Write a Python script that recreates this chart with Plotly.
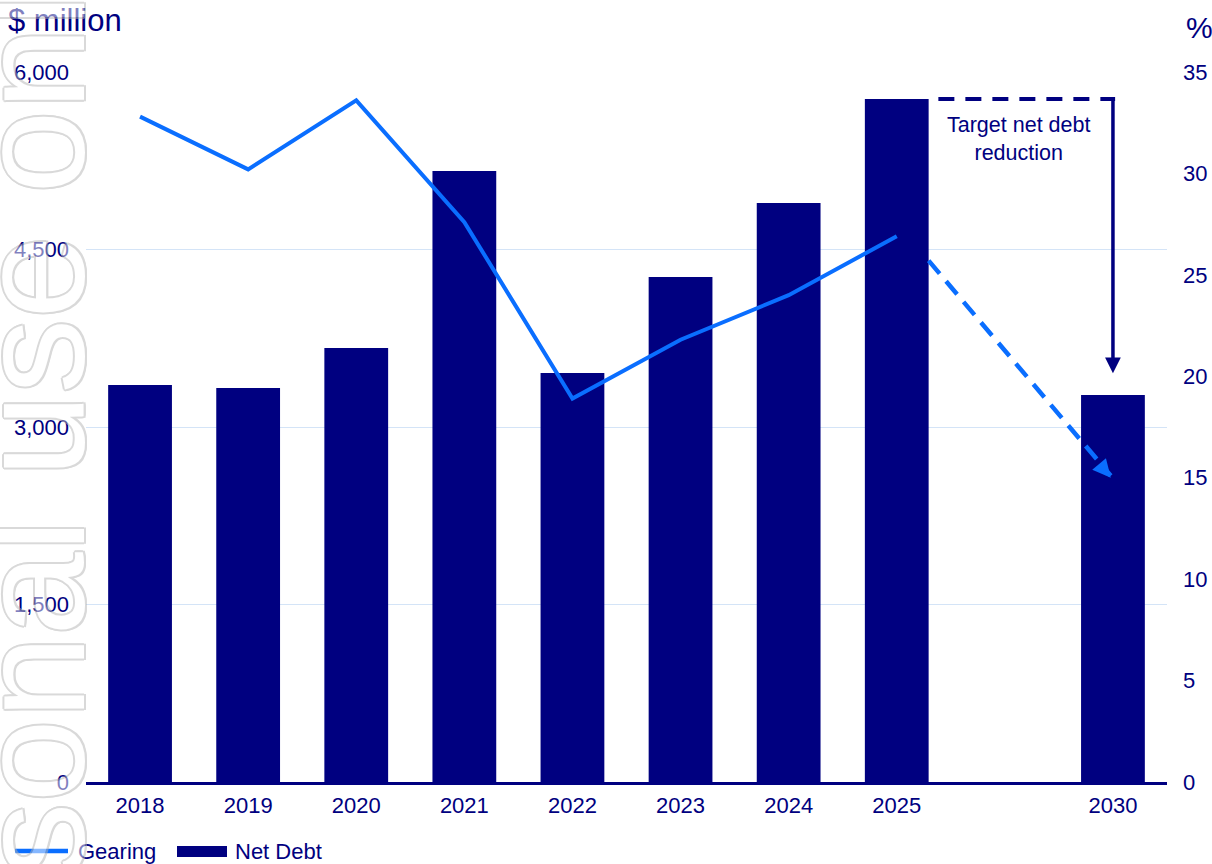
import plotly.graph_objects as go

# ---- data ----
hist_years = ["2018", "2019", "2020", "2021", "2022", "2023", "2024", "2025"]
target_year = "2030"
net_debt_hist = [3355, 3330, 3668, 5163, 3456, 4268, 4893, 5772]   # $ million
net_debt_target = 3270                                              # $ million
gearing_hist = [32.8, 30.2, 33.6, 27.6, 18.9, 21.8, 24.0, 26.9]     # %
gearing_target = 15.0                                               # %

left_ticks = [0, 1500, 3000, 4500, 6000]
right_ticks = [0, 5, 10, 15, 20, 25, 30, 35]

# ---- styling ----
NAVY = "#000080"
BLUE = "#0A6EFF"
GRID = "#D4E4F7"
FONT = "Liberation Sans, Arial, sans-serif"
TICK_SIZE = 22

W, H = 1212, 864
M_L, M_R, M_T, M_B = 86, 45, 72, 82
PW, PH = W - M_L - M_R, H - M_T - M_B


def pxx(px):
    """page pixel x -> paper x"""
    return (px - M_L) / PW


def pxy(py):
    """page pixel y -> paper y"""
    return (H - M_B - py) / PH


# one empty slot between the last actual year and the target year
hist_x = list(range(len(hist_years)))
target_x = len(hist_years) + 1
bar_x = hist_x + [target_x]
bar_y = net_debt_hist + [net_debt_target]
tick_text = hist_years + [target_year]
BAR_W = 0.59
last_x = hist_x[-1]
bar_edge = last_x + BAR_W / 2

fig = go.Figure()
fig.add_trace(go.Bar(
    x=bar_x, y=bar_y, width=BAR_W, name="Net Debt",
    marker=dict(color=NAVY, line=dict(width=0)), yaxis="y",
))
fig.add_trace(go.Scatter(
    x=hist_x, y=gearing_hist, mode="lines", name="Gearing",
    line=dict(color=BLUE, width=4), yaxis="y2",
))

shapes = []
annotations = []

# projected gearing: dashed arrow from the 2025 bar edge towards the 2030 target
proj_start_y = 25.7
shapes.append(dict(
    type="line", xref="x", yref="y2", layer="above",
    x0=bar_edge, y0=proj_start_y, x1=target_x - 0.02, y1=gearing_target + 0.1,
    line=dict(color=BLUE, width=4.5, dash="17px,10px"),
))
annotations.append(dict(
    x=target_x - 0.02, y=gearing_target, xref="x", yref="y2",
    ax=-11, ay=-12.9, showarrow=True, arrowhead=2, arrowsize=0.8,
    arrowwidth=4.5, arrowcolor=BLUE, standoff=0, text="",
))

# target net debt reduction bracket
debt_top = net_debt_hist[-1]
arrow_tip = net_debt_target + 185
shapes.append(dict(
    type="line", xref="x", yref="y",
    x0=bar_edge + 0.09, y0=debt_top, x1=target_x + 0.02, y1=debt_top,
    line=dict(color=NAVY, width=4, dash="16px,11px"),
))
annotations.append(dict(
    x=target_x, y=arrow_tip, xref="x", yref="y",
    ax=target_x, ay=debt_top, axref="x", ayref="y",
    showarrow=True, arrowhead=2, arrowsize=0.9, arrowwidth=3.5,
    arrowcolor=NAVY, standoff=0, text="",
))
annotations.append(dict(
    x=8.13, y=pxy(139), xref="x", yref="paper",
    text="Target net debt<br>reduction", showarrow=False,
    xanchor="center", yanchor="middle", align="center",
    font=dict(family=FONT, size=21.5, color=NAVY),
))

# axis unit labels
annotations.append(dict(
    x=pxx(6), y=pxy(20), xref="paper", yref="paper", text="$ million",
    showarrow=False, xanchor="left", yanchor="middle",
    font=dict(family=FONT, size=31, color=NAVY),
))
annotations.append(dict(
    x=pxx(1184), y=pxy(27), xref="paper", yref="paper", text="%",
    showarrow=False, xanchor="left", yanchor="middle",
    font=dict(family=FONT, size=30, color=NAVY),
))

# legend
leg_y = pxy(851)
shapes.append(dict(
    type="line", xref="paper", yref="paper",
    x0=pxx(15), x1=pxx(68), y0=leg_y, y1=leg_y,
    line=dict(color=BLUE, width=4.5),
))
annotations.append(dict(
    x=pxx(76), y=leg_y, xref="paper", yref="paper", text="Gearing",
    showarrow=False, xanchor="left", yanchor="middle",
    font=dict(family=FONT, size=TICK_SIZE, color=NAVY),
))
shapes.append(dict(
    type="rect", xref="paper", yref="paper",
    x0=pxx(177), x1=pxx(227), y0=pxy(857), y1=pxy(846),
    fillcolor=NAVY, line=dict(width=0),
))
annotations.append(dict(
    x=pxx(233), y=leg_y, xref="paper", yref="paper", text="Net Debt",
    showarrow=False, xanchor="left", yanchor="middle",
    font=dict(family=FONT, size=TICK_SIZE, color=NAVY),
))

# vertical outlined watermark along the left edge
wm_col = "#b5b5b5"
wm_shadow = ", ".join(
    f"{dx}px {dy}px 0 {wm_col}"
    for dx, dy in [(2, 0), (-2, 0), (0, 2), (0, -2),
                   (1.5, 1.5), (-1.5, 1.5), (1.5, -1.5), (-1.5, -1.5)]
)
annotations.append(dict(
    x=pxx(32), y=pxy(640), xref="paper", yref="paper",
    text="For personal use only", textangle=-90, showarrow=False,
    xanchor="center", yanchor="middle", opacity=0.5,
    font=dict(family=FONT, size=150, color="white", shadow=wm_shadow),
))

fig.update_layout(
    width=W, height=H,
    margin=dict(l=M_L, r=M_R, t=M_T, b=M_B, pad=0, autoexpand=False),
    plot_bgcolor="white", paper_bgcolor="white",
    showlegend=False,
    font=dict(family=FONT, size=TICK_SIZE, color=NAVY),
    xaxis=dict(
        range=[-0.5, 9.5], tickmode="array", tickvals=bar_x, ticktext=tick_text,
        showgrid=False, zeroline=False, showline=True, linecolor=NAVY,
        linewidth=2.5, ticks="", ticklabelstandoff=2, automargin=False,
        tickfont=dict(family=FONT, size=TICK_SIZE, color=NAVY),
    ),
    yaxis=dict(
        range=[0, 6000], tickmode="array", tickvals=left_ticks, tickformat=",",
        showgrid=True, gridcolor=GRID, gridwidth=1, zeroline=False,
        showline=False, ticks="", ticklabelstandoff=16, automargin=False,
        tickfont=dict(family=FONT, size=TICK_SIZE, color=NAVY),
    ),
    yaxis2=dict(
        range=[0, 35], tickmode="array", tickvals=right_ticks,
        overlaying="y", side="right", showgrid=False, zeroline=False,
        showline=False, ticks="", ticklabelstandoff=15, automargin=False,
        tickfont=dict(family=FONT, size=TICK_SIZE, color=NAVY),
    ),
    shapes=shapes,
    annotations=annotations,
)

fig.write_html("out.html")
